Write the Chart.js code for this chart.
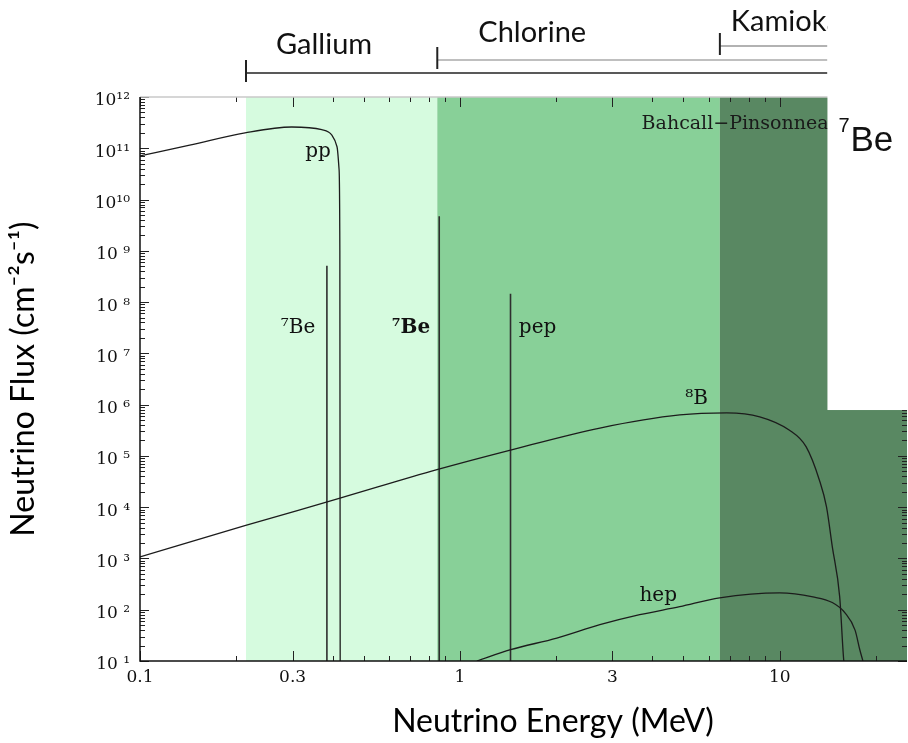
<!DOCTYPE html>
<html><head><meta charset="utf-8">
<script src="https://cdn.jsdelivr.net/npm/chart.js@4/dist/chart.umd.min.js"></script>
<style>html,body{margin:0;padding:0;background:#fff;}canvas{display:block;}</style>
</head><body>
<canvas id="c" width="908" height="743"></canvas>
<script>
// ---- data ----
const ppEnergy = [0.1, 0.143, 0.213, 0.298, 0.37, 0.398, 0.413, 0.419, 0.4215, 0.4225];
const ppFlux   = [7.1e10, 1.15e11, 2.0e11, 2.6e11, 2.3e11, 1.8e11, 1.07e11, 4.0e10, 1e9, 10];

const b8Energy = [0.1, 0.214, 0.422, 0.848, 1.44, 2.74, 4.87, 6.83, 8.66, 10.7, 12.1, 13.3, 14.0, 14.6, 15.4, 15.85, 15.95];
const b8Flux   = [1.07e3, 4.4e3, 1.5e4, 5.4e4, 1.3e5, 3.5e5, 6.3e5, 6.9e5, 5.8e5, 3.2e5, 1.5e5, 3.4e4, 1.02e4, 1.7e3, 178, 10.6, 8];

const hepEnergy = [1.13, 1.44, 2.01, 2.74, 3.65, 4.87, 6.49, 10.0, 12.7, 14.6, 16.0, 17.2, 17.8, 18.2];
const hepFlux   = [10, 16.6, 28, 51, 80, 115, 171, 213, 178, 138, 87, 40, 16.6, 10];

const lineNames  = ['7Be 384 keV', '7Be 862 keV', 'pep'];
const lineEnergy = [0.384, 0.862, 1.44];
const lineFlux   = [5.1e8, 4.7e9, 1.45e8];

const thresholdNames  = ['Gallium', 'Chlorine', 'Kamiokande'];
const thresholdEnergy = [0.2145, 0.85, 6.5];

const xTickValues = [0.1, 0.3, 1, 3, 10];
const xTickLabels = ['0.1', '0.3', '1', '3', '10'];
const yTickValues = [1e1,1e2,1e3,1e4,1e5,1e6,1e7,1e8,1e9,1e10,1e11,1e12];
const yTickLabels = ['10 \u00b9','10 \u00b2','10 \u00b3','10 \u2074','10 \u2075','10 \u2076','10 \u2077','10 \u2078','10 \u2079','10\u00b9\u2070','10\u00b9\u00b9','10\u00b9\u00b2'];

// ---- presentation ----
const regionColors = ['#d6fbdf', '#88d098', '#598862'];
const curveLabels = [
  {text:'pp', e:0.36, f:8.5e10, bold:false},
  {text:'\u2077Be', e:0.312, f:3.1e7, bold:false},
  {text:'\u2077Be', e:0.703, f:3.1e7, bold:true},
  {text:'pep', e:1.75, f:3.1e7, bold:false},
  {text:'\u2078B', e:5.5, f:1.3e6, bold:false},
  {text:'hep', e:4.17, f:190, bold:false}
];
const cropE = 14.1, cropF = 7.85e5;

const pts = (xs, ys) => xs.map((x, i) => ({x, y: ys[i]}));
const curveStyle = {showLine:true, pointRadius:0, borderColor:'#1c1c1c', borderWidth:1.3, fill:false, cubicInterpolationMode:'monotone'};
const datasets = [
  Object.assign({label:'pp', data: pts(ppEnergy, ppFlux)}, curveStyle),
  Object.assign({label:'8B', data: pts(b8Energy, b8Flux)}, curveStyle),
  Object.assign({label:'hep', data: pts(hepEnergy, hepFlux)}, curveStyle),
  ...lineEnergy.map((e, i) => ({label: lineNames[i], data:[{x:e, y:lineFlux[i]}, {x:e, y:10}], showLine:true, pointRadius:0, borderColor:'#2e2e2e', borderWidth:1.6}))
];

const decor = {
  id: 'decor',
  beforeDraw(chart) {
    const c = chart.ctx; c.save(); c.fillStyle = '#fff'; c.fillRect(0, 0, chart.width, chart.height); c.restore();
  },
  beforeDatasetsDraw(chart) {
    const c = chart.ctx, a = chart.chartArea, xs = chart.scales.x;
    c.save();
    thresholdEnergy.forEach((e, i) => {
      const x0 = xs.getPixelForValue(e);
      const x1 = i + 1 < thresholdEnergy.length ? xs.getPixelForValue(thresholdEnergy[i + 1]) : a.right;
      c.fillStyle = regionColors[i];
      c.fillRect(x0, a.top, x1 - x0, a.bottom - a.top);
    });
    c.restore();
  },
  afterDatasetsDraw(chart) {
    const c = chart.ctx, a = chart.chartArea, xs = chart.scales.x, ys = chart.scales.y;
    c.save();
    c.strokeStyle = '#222'; c.lineWidth = 1;
    // x ticks (bottom & top)
    [0.1, 1, 10].forEach(d => {
      for (let k = 1; k <= 9; k++) {
        const v = d * k; if (v < xs.min || v > xs.max) continue;
        const x = Math.round(xs.getPixelForValue(v)) + 0.5;
        const len = (k === 1 || k === 3) ? 10 : 5;
        c.beginPath(); c.moveTo(x, a.bottom); c.lineTo(x, a.bottom - len);
        c.moveTo(x, a.top); c.lineTo(x, a.top + len); c.stroke();
      }
    });
    // y ticks (left & right)
    for (let p = 1; p <= 12; p++) {
      for (let k = 1; k <= 9; k++) {
        const v = k * Math.pow(10, p); if (v > ys.max) continue;
        const y = Math.round(ys.getPixelForValue(v)) + 0.5;
        const len = k === 1 ? 9 : 5;
        c.beginPath(); c.moveTo(a.left, y); c.lineTo(a.left + len, y);
        c.moveTo(a.right, y); c.lineTo(a.right - len, y); c.stroke();
      }
    }
    // axis frame
    c.strokeStyle = '#c8c8c8'; c.lineWidth = 1.5;
    c.beginPath(); c.moveTo(a.left, a.top); c.lineTo(a.right, a.top); c.stroke();
    c.strokeStyle = '#111'; c.lineWidth = 1.5;
    c.beginPath(); c.moveTo(a.left, a.top); c.lineTo(a.left, a.bottom); c.lineTo(a.right, a.bottom); c.stroke();
    // curve labels
    c.fillStyle = '#111'; c.textAlign = 'center'; c.textBaseline = 'middle';
    curveLabels.forEach(l => {
      c.font = (l.bold ? 'bold ' : '') + '20px "DejaVu Serif"';
      c.fillText(l.text, xs.getPixelForValue(l.e), ys.getPixelForValue(l.f));
    });
    c.font = '19px "DejaVu Serif"'; c.textAlign = 'left'; c.fillStyle = '#1a1a1a';
    c.fillText('Bahcall\u2212Pinsonneault', xs.getPixelForValue(3.70), ys.getPixelForValue(3.0e11));
    c.restore();
  },
  afterDraw(chart) {
    const c = chart.ctx, a = chart.chartArea, xs = chart.scales.x, ys = chart.scales.y;
    const xEnd = xs.getPixelForValue(cropE);
    c.save();
    // detector threshold brackets
    const rows = [
      {y:73, tickTop:60, tickBot:82, lineColor:'#222', dx:30, ty:45},
      {y:60, tickTop:47, tickBot:69, lineColor:'#aaa', dx:41, ty:33},
      {y:46, tickTop:33, tickBot:55, lineColor:'#999', dx:11, ty:22}
    ];
    thresholdEnergy.forEach((e, i) => {
      const r = rows[i], x = xs.getPixelForValue(e);
      c.strokeStyle = r.lineColor; c.lineWidth = 1.5;
      c.beginPath(); c.moveTo(x, r.y); c.lineTo(xEnd, r.y); c.stroke();
      c.strokeStyle = '#222'; c.lineWidth = 2;
      c.beginPath(); c.moveTo(x, r.tickTop); c.lineTo(x, r.tickBot); c.stroke();
      c.font = '29px Lato'; c.fillStyle = '#111'; c.textAlign = 'left'; c.textBaseline = 'middle';
      c.fillText(thresholdNames[i], x + r.dx, r.ty);
    });
    // cropped corner of the original slide
    const yEnd = ys.getPixelForValue(cropF);
    c.fillStyle = '#fff';
    c.fillRect(xEnd, 0, chart.width - xEnd, yEnd);
    c.fillStyle = '#111'; c.textBaseline = 'alphabetic'; c.textAlign = 'left';
    c.font = '20px "Liberation Sans"'; c.fillText('7', xEnd + 11, 132);
    c.font = '35px "Liberation Sans"'; c.fillText('Be', xEnd + 23, 151);
    // x-axis title
    c.font = '32px Lato'; c.textAlign = 'center'; c.textBaseline = 'middle'; c.fillStyle = '#000';
    c.fillText('Neutrino Energy (MeV)', 553, 722);
    c.restore();
  }
};

new Chart(document.getElementById('c'), {
  type: 'scatter',
  data: {datasets},
  options: {
    responsive: false, animation: false,
    layout: {padding: {top: 97, right: 1, left: 0, bottom: 0}},
    plugins: {legend: {display: false}, tooltip: {enabled: false}},
    scales: {
      x: {
        type: 'logarithmic', min: 0.1, max: 25,
        grid: {display: false, drawTicks: false}, border: {display: false},
        ticks: {autoSkip: false, maxRotation: 0, padding: 6, color: '#111', font: {family: 'DejaVu Serif', size: 17},
          callback: (v, i) => xTickLabels[i]},
        afterBuildTicks: s => { s.ticks = xTickValues.map(v => ({value: v})); },
        afterFit: s => { s.height = 82; }
      },
      y: {
        type: 'logarithmic', min: 10, max: 1e12,
        grid: {display: false, drawTicks: false}, border: {display: false},
        ticks: {autoSkip: false, padding: 10, labelOffset: 4, color: '#111', font: {family: 'DejaVu Serif', size: 17},
          callback: (v, i) => yTickLabels[i]},
        afterBuildTicks: s => { s.ticks = yTickValues.map(v => ({value: v})); },
        afterFit: s => { s.width = 140; },
        title: {display: true, text: 'Neutrino Flux (cm\u207b\u00b2s\u207b\u00b9)', color: '#000',
          font: {family: 'Lato', size: 32}, padding: {top: 4, bottom: 0}}
      }
    }
  },
  plugins: [decor]
});
</script>
</body></html>
